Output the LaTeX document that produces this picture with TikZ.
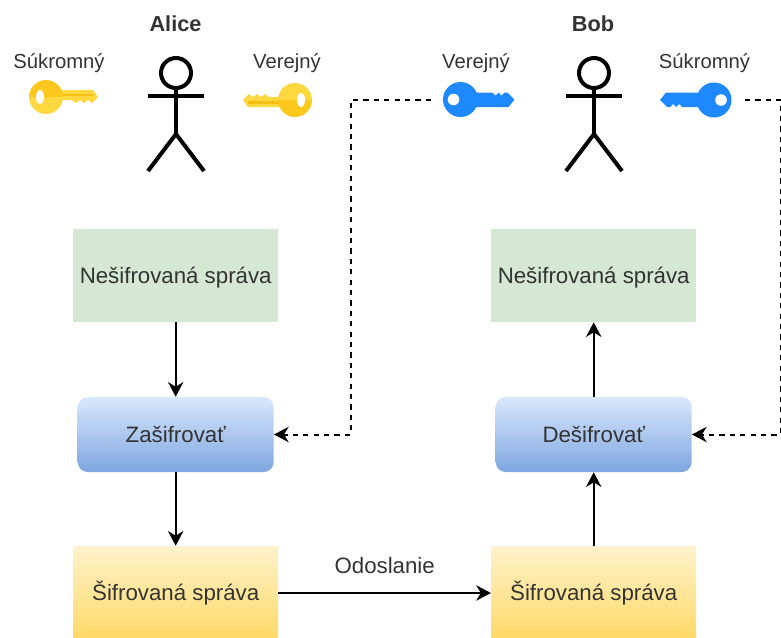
\documentclass[tikz,border=0pt]{standalone}
\usepackage{fontspec}
\setmainfont{Liberation Sans}
\usetikzlibrary{arrows.meta}
\definecolor{txt}{HTML}{333333}
\definecolor{ykl}{HTML}{FFD840}
\definecolor{ykd}{HTML}{FCC81E}
\definecolor{yks}{HTML}{F7BE14}
\definecolor{bk}{HTML}{1E88FF}
\definecolor{gb}{HTML}{D5E8D4}
\definecolor{blt}{HTML}{DAE8FC}
\definecolor{blb}{HTML}{7EA6E0}
\definecolor{ylt}{HTML}{FFF2CC}
\definecolor{ylb}{HTML}{FFD966}
\newcommand{\boxfont}{\fontsize{16.7}{19}\selectfont}
\newcommand{\smallfont}{\fontsize{15.2}{18}\selectfont}
\newcommand{\lowered}[1]{\raisebox{-0.34em}[0pt][0pt]{#1}}
\tikzset{
  x=0.75pt,y=-0.75pt,
  lbl/.style={font=\smallfont,text=txt,inner sep=0pt},
  who/.style={font=\fontsize{16.3}{19}\selectfont\bfseries,text=txt,inner sep=0pt},
  greenbox/.style={minimum width=153.75pt,minimum height=69.75pt,inner sep=0pt,fill=gb,font=\boxfont,text=txt},
  bluebox/.style={minimum width=147pt,minimum height=56.25pt,inner sep=0pt,rounded corners=7.5pt,top color=blt,bottom color=blb,font=\boxfont,text=txt},
  yelbox/.style={minimum width=153.75pt,minimum height=70.5pt,inner sep=0pt,top color=ylt,bottom color=ylb,font=\boxfont,text=txt},
  conn/.style={line width=1.5pt,draw=black,-{Stealth[length=11pt,width=11.5pt,inset=3.5pt]}},
  dconn/.style={conn,dash pattern=on 3.9pt off 3.9pt},
  limb/.style={line width=3pt,draw=black},
  pics/yellowkey/.style={code={
    \fill[ykl] (10,-7) -- (47,-7) -- (52,0) -- (46,6) -- (42,3) -- (38,6) -- (34,3) -- (30,6) -- (26,3) -- (10,3) -- cycle;
    \fill[yks] (10,-3.5) rectangle (47,-1);
    \fill[ykd] (17,0) arc[start angle=0,end angle=-180,radius=17] -- cycle;
    \fill[ykl] (17,0) arc[start angle=0,end angle=180,radius=17] -- cycle;
    \fill[white] (-6,0) ellipse[x radius=4,y radius=7];
  }},
  pics/bluekey/.style={code={
    \fill[bk] (0,0) circle[radius=17.5];
    \fill[bk] (10,-7) -- (32,-7) -- (35,-4) -- (38,-7) -- (41,-4) -- (44,-7) -- (47,-7) -- (54,0) -- (48,7.5) -- (10,7.5) -- cycle;
    \fill[white] (-7,0) circle[radius=5.8];
  }},
}
\begin{document}
\begin{tikzpicture}
\useasboundingbox (0,0) rectangle (781,637);
\clip (0,0) rectangle (781,637);
% names
\node[who] (alice) at (175.5,24) {\lowered{Alice}};
\node[who] (bob) at (593,24) {\lowered{Bob}};
\node[lbl] (l1) at (59,62) {\lowered{Súkromný}};
\node[lbl] (l2) at (287,62) {\lowered{Verejný}};
\node[lbl] (l3) at (476,62) {\lowered{Verejný}};
\node[lbl] (l4) at (704.5,62) {\lowered{Súkromný}};
% keys
\pic at (46,97) {yellowkey};
\pic[rotate=180] at (295,100) {yellowkey};
\pic at (460.5,99.5) {bluekey};
\pic[rotate=180] at (714,100) {bluekey};
% actors
\foreach \cx/\nm in {176/a,594/b}{
  \node[circle,draw=black,line width=3pt,minimum size=22.5pt,inner sep=0pt] (head\nm) at (\cx,73) {};
  \coordinate (hip\nm) at (\cx,134);
  \coordinate (armL\nm) at (\cx-28,96);
  \coordinate (armR\nm) at (\cx+28,96);
  \coordinate (legL\nm) at (\cx-28,171);
  \coordinate (legR\nm) at (\cx+28,171);
  \draw[limb] (head\nm.south) -- (hip\nm);
  \draw[limb] (armL\nm) -- (armR\nm);
  \draw[limb,line join=miter] (legL\nm) -- (hip\nm) -- (legR\nm);
}
% boxes
\node[greenbox] (pa) at (175.7,275.5) {\lowered{Nešifrovaná správa}};
\node[bluebox] (ea) at (175.7,434.5) {\lowered{Zašifrovať}};
\node[yelbox] (ca) at (175.7,593) {\lowered{Šifrovaná správa}};
\node[greenbox] (pb) at (593.7,275.5) {\lowered{Nešifrovaná správa}};
\node[bluebox] (db) at (593.7,434.5) {\lowered{Dešifrovať}};
\node[yelbox] (cb) at (593.7,593) {\lowered{Šifrovaná správa}};
% connectors
\draw[conn] (pa) -- (ea);
\draw[conn] (ea) -- (ca);
\draw[conn] (ca) -- node[above=14pt,inner sep=0pt,font=\boxfont,text=txt] {Odoslanie} (cb);
\draw[conn] (cb) -- (db);
\draw[conn] (db) -- (pb);
\coordinate (pubk) at (431,99.5);
\coordinate (pubc) at (351,99.5);
\coordinate (prik) at (745,99.5);
\coordinate (pric) at (780.5,99.5);
\draw[dconn] (pubk) -- (pubc) |- (ea.east);
\draw[dconn] (prik) -- (pric) |- (db.east);
\end{tikzpicture}
\end{document}
